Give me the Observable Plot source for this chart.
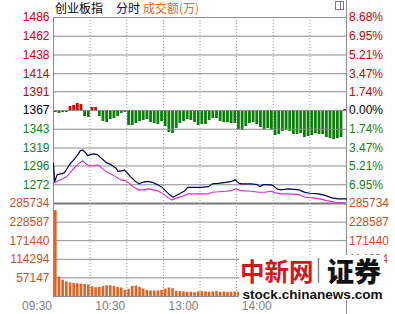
<!DOCTYPE html>
<html><head><meta charset="utf-8">
<script src="https://cdn.jsdelivr.net/npm/d3@7"></script>
<script src="https://cdn.jsdelivr.net/npm/@observablehq/plot@0.6"></script>
<style>
html,body{margin:0;padding:0;background:#fff;}
#chart{position:relative;width:395px;height:314px;overflow:hidden;background:#fff;}
#chart svg{position:absolute;left:0;}
</style></head>
<body><div id="chart"></div>
<script>
// ---- data ----
const prevClose = 1367;
const priceTicks = [1486, 1462, 1438, 1414, 1391, 1367, 1343, 1319, 1296, 1272];
const pctLabels = ["8.68%", "6.95%", "5.21%", "3.47%", "1.74%", "0.00%", "1.74%", "3.47%", "5.21%", "6.95%"];
const volumeTicks = [285734, 228587, 171440, 114294, 57147];
const timeTicks = [0, 60, 120, 180];
const timeLabels = ["09:30", "10:30", "13:00", "14:00"];
const gridMinutes = [30, 60, 90, 120, 150, 180, 210];

// index line (minutes after 09:30, trading time)
const indexMinutes = [0,1,3,7,9,12,14,16,20,22,24,26,28,30,33,36,39,43,47,51,53,57,58,60,63,67,70,73,77,81,85,89,93,96,98,102,107,110,115,120,127,130,135,141,146,149,152,154,162,167,169,172,178,180,183,186,193,201,206,210,217,223,228,233,240];
const indexPrices = [1299.0,1276.0,1284.9,1286.2,1287.5,1295.1,1299.4,1302.8,1310.5,1315.6,1316.5,1313.4,1309.2,1310.5,1311.4,1310.5,1306.2,1300.6,1297.7,1293.5,1289.1,1290.0,1290.9,1287.9,1282.4,1276.4,1273.1,1275.1,1276.4,1275.1,1272.2,1268.7,1262.3,1258.1,1256.0,1259.4,1263.6,1268.7,1268.7,1268.7,1269.6,1273.1,1273.8,1275.1,1276.4,1278.2,1273.8,1273.1,1273.1,1272.2,1269.6,1272.2,1271.8,1270.9,1266.7,1265.4,1266.7,1265.4,1262.3,1261.1,1260.3,1258.1,1255.2,1253.9,1253.9];

// average line
const avgMinutes = [0,3,7,10,13,15,18,21,24,26,29,33,36,39,43,47,51,55,59,62,66,70,74,78,82,86,90,94,97,101,105,110,115,120,127,130,141,146,149,153,162,168,173,178,182,186,193,201,206,213,218,224,231,240];
const avgPrices = [1273.8,1276.4,1279.4,1281.5,1285.8,1290.0,1295.1,1299.4,1302.8,1299.4,1296.4,1296.4,1297.7,1294.3,1289.1,1285.8,1282.4,1278.2,1277.3,1273.8,1268.7,1265.4,1265.4,1266.7,1265.4,1263.6,1260.3,1255.2,1252.6,1255.2,1256.9,1260.3,1260.3,1260.3,1260.3,1262.3,1263.6,1264.5,1266.7,1264.5,1263.6,1262.3,1262.3,1263.6,1261.6,1260.3,1260.3,1259.4,1256.0,1255.2,1253.9,1251.7,1249.6,1248.3];

// advance/decline bars, per 3 minutes (positive = more decliners, drawn down)
const breadth = [2,3,2,2,-4,-5,-7,-6,6,7,
 -3,-3,6,11,12,9,8,6,3,2,
 15,15,13,11,10,9,12,13,14,11,
 16,22,23,18,13,11,9,10,12,15,
 14,14,10,8,8,11,12,12,13,13,
 19,20,16,13,12,14,17,19,18,20,
 25,24,21,20,21,24,24,23,27,26,
 25,23,24,24,27,28,29,28,27,-1];
const breadthScale = 1.28; // index points per breadth unit

// turnover (万), per 3 minutes
const volume = [264000,60000,50000,45000,42000,40000,39000,38000,37000,35000,
 30000,27000,28000,31000,33000,33000,31000,28000,26000,19000,
 22000,31000,32000,28000,23000,18000,17000,17000,17000,19000,
 23000,26000,24000,16000,15000,14000,13000,13000,12000,14000,
 15000,14000,13000,14000,15000,13000,14000,12000,13000,14000,
 13000,12000,13000,14000,12000,13000,12000,11000,12000,13000,
 12000,12000,11000,13000,12000,12000,11000,12000,13000,12000,
 12000,13000,12000,13000,14000,13000,15000,16000,18000,22000];

// ---- build ----
const indexData = indexMinutes.map((m, i) => ({m, p: indexPrices[i]}));
const avgData = avgMinutes.map((m, i) => ({m, p: avgPrices[i]}));
const breadthData = breadth.map((b, i) => ({m: 3 * i + 1.5, b}));
const volData = volume.map((v, i) => ({m: 3 * i + 1.5, v}));

const W = 395;
const font = "'Liberation Sans', Arial, sans-serif";
const grid = "#8c8c8c";
const style = {background: "transparent", overflow: "visible", fontSize: "12px", fontFamily: font};
const ax = {tickSize: 0, label: null};

const topSvg = Plot.plot({
  width: W, height: 205, marginLeft: 53, marginRight: 49, marginTop: 17, marginBottom: 2,
  x: {domain: [0, 240], axis: null},
  y: {domain: [1248, 1486], axis: null},
  style,
  marks: [
    Plot.ruleX(gridMinutes, {stroke: "#9a9a9a", strokeDasharray: "1,2"}),
    Plot.ruleX(breadthData.filter(d => d.b > 0), {x: "m", y1: prevClose, y2: d => prevClose - d.b * breadthScale, stroke: "#0a7f0a", strokeWidth: 2.8}),
    Plot.ruleX(breadthData.filter(d => d.b < 0), {x: "m", y1: prevClose, y2: d => prevClose - d.b * breadthScale, stroke: "#e00000", strokeWidth: 2.8}),
    Plot.ruleY(priceTicks, {stroke: grid}),
    Plot.ruleY([1248], {stroke: "#7a7a7a", strokeWidth: 2}),
    Plot.ruleX([0, 240], {stroke: grid}),
    Plot.line(avgData, {x: "m", y: "p", stroke: "#d42ad4", strokeWidth: 1.1}),
    Plot.line(indexData, {x: "m", y: "p", stroke: "#000055", strokeWidth: 1.2}),
    Plot.axisY(priceTicks.filter(d => d > prevClose), {...ax, anchor: "left", tickPadding: 4, color: "#cc0000", tickFormat: d => String(d)}),
    Plot.axisY([prevClose], {...ax, anchor: "left", tickPadding: 4, color: "#000000", tickFormat: d => String(d)}),
    Plot.axisY(priceTicks.filter(d => d < prevClose), {...ax, anchor: "left", tickPadding: 4, color: "#168016", tickFormat: d => String(d)}),
    Plot.axisY(priceTicks.filter(d => d > prevClose), {...ax, anchor: "right", tickPadding: 2.5, color: "#cc0000", tickFormat: d => pctLabels[priceTicks.indexOf(d)]}),
    Plot.axisY([prevClose], {...ax, anchor: "right", tickPadding: 2.5, color: "#000000", tickFormat: d => pctLabels[priceTicks.indexOf(d)]}),
    Plot.axisY(priceTicks.filter(d => d < prevClose), {...ax, anchor: "right", tickPadding: 2.5, color: "#168016", tickFormat: d => pctLabels[priceTicks.indexOf(d)]})
  ]
});
topSvg.style.top = "0px";

const botSvg = Plot.plot({
  width: W, height: 111, marginLeft: 53, marginRight: 49, marginTop: 0, marginBottom: 18,
  x: {domain: [0, 240], axis: null},
  y: {domain: [0, 285734], axis: null},
  style,
  marks: [
    Plot.ruleX(gridMinutes, {stroke: "#9a9a9a", strokeDasharray: "1,2"}),
    Plot.ruleY(volumeTicks.slice(1), {stroke: grid}),
    Plot.ruleX(volData, {x: "m", y1: 0, y2: "v", stroke: "#e8601c", strokeWidth: 2.6}),
    Plot.ruleY([0], {stroke: grid}),
    Plot.ruleX([0, 240], {stroke: grid}),
    Plot.axisY(volumeTicks, {...ax, anchor: "left", tickPadding: 4, color: "#c8521e", tickFormat: d => String(d)}),
    Plot.axisY(volumeTicks, {...ax, anchor: "right", tickPadding: 2.5, color: "#c8521e", tickFormat: d => String(d)}),
    Plot.axisX(timeTicks, {...ax, anchor: "bottom", tickPadding: 4.5, textAnchor: "end", dx: -1.5, color: "#808080", tickFormat: d => timeLabels[timeTicks.indexOf(d)]})
  ]
});
botSvg.style.top = "203px";

const chart = document.getElementById("chart");
chart.appendChild(topSvg);
chart.appendChild(botSvg);

const overlay = document.createElementNS("http://www.w3.org/2000/svg", "svg");
overlay.setAttribute("width", W);
overlay.setAttribute("height", 314);
overlay.style.top = "0px";
overlay.innerHTML = `
  <g font-family="'Noto Sans CJK SC', sans-serif" font-size="12">
    <text x="55" y="12.5" fill="#000">创业板指</text>
    <text x="116" y="12.5" fill="#000080">分时</text>
    <text x="143" y="12.5" fill="#e06a1e">成交额(万)</text>
  </g>
  <line x1="346.5" y1="0" x2="346.5" y2="17" stroke="${grid}"/>
  <line x1="346.5" y1="296" x2="346.5" y2="314" stroke="${grid}"/>
  <rect x="335.5" y="1.5" width="8" height="8" fill="none" stroke="#777"/>
  <line x1="340.5" y1="1.5" x2="340.5" y2="9.5" stroke="#777"/>
  <rect x="239" y="255" width="145" height="45" fill="#fff"/>
  <text x="240" y="281" font-family="'Noto Sans CJK SC', sans-serif" font-weight="700" font-size="24.5" fill="#d4161c">中新网</text>
  <line x1="318.5" y1="258" x2="318.5" y2="283" stroke="#888" stroke-width="1.5"/>
  <text x="327" y="281.5" font-family="'Noto Sans CJK SC', sans-serif" font-weight="900" font-size="27" fill="#111">证券</text>
  <text x="242.5" y="299" font-family="'Liberation Sans', Arial, sans-serif" font-weight="700" font-size="13.6" fill="#111" textLength="140" lengthAdjust="spacingAndGlyphs">stock.chinanews.com</text>
`;
chart.appendChild(overlay);
</script>
</body></html>
